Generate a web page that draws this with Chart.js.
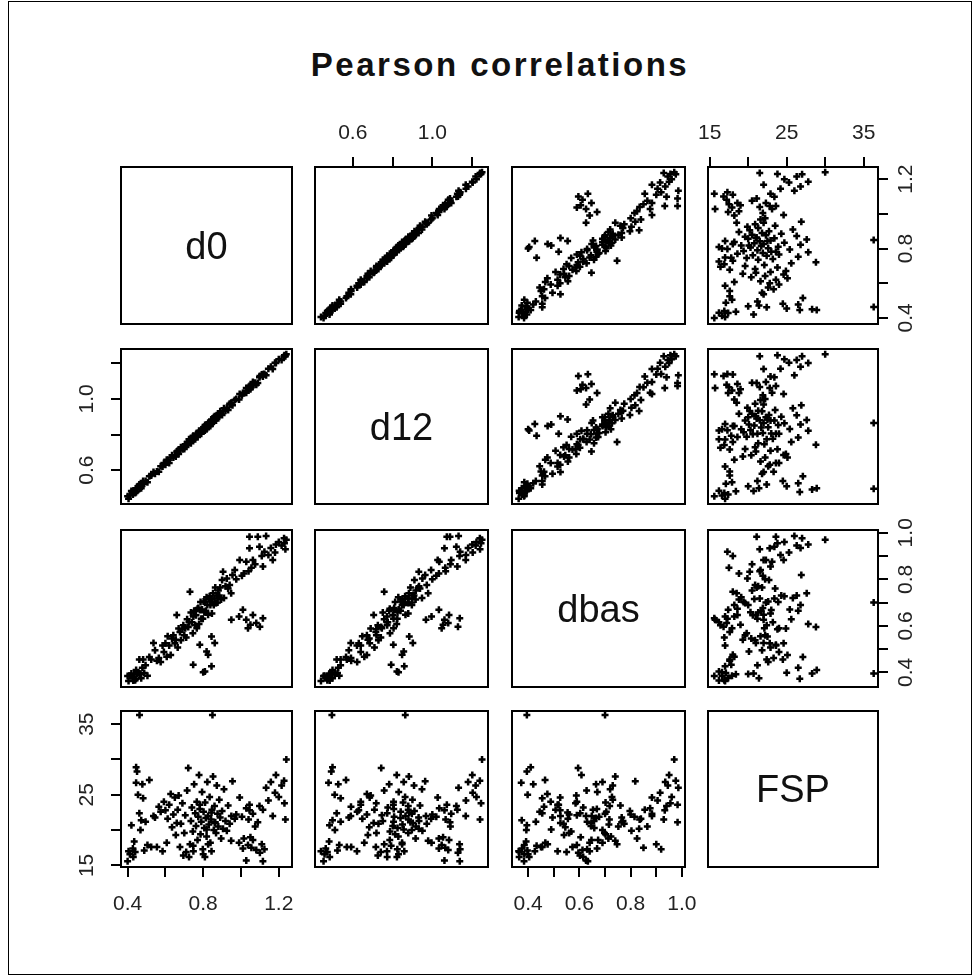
<!DOCTYPE html>
<html><head><meta charset="utf-8">
<script src="https://cdn.jsdelivr.net/npm/chart.js@4.4.0/dist/chart.umd.min.js"></script>
<style>
html,body{margin:0;padding:0;background:#fff;}
body{width:980px;height:976px;position:relative;overflow:hidden;font-family:'Liberation Sans',Arial,sans-serif;}
#frame{position:absolute;left:8px;top:1px;width:964px;height:974px;border:1px solid #000;box-sizing:border-box;}
#title{position:absolute;left:0;width:1000px;top:48px;text-align:center;font-weight:bold;font-size:33px;line-height:33px;letter-spacing:2.5px;color:#111;}
.diag{position:absolute;width:200px;text-align:center;font-size:38px;line-height:38px;color:#111;}
canvas{position:absolute;}
</style></head><body>
<div id="frame"></div>
<div id="title">Pearson correlations</div>
<script>
// ---- data: one entry per observation ----
const varNames = ['d0', 'd12', 'dbas', 'FSP'];

const d0 = [0.400,0.405,0.412,0.420,0.428,0.435,0.440,0.445,0.450,0.455,
0.463,0.462,0.468,0.472,0.478,0.482,0.488,0.495,0.505,0.515,
0.430,0.445,0.525,0.537,0.545,0.555,0.565,0.575,0.585,0.592,
0.600,0.607,0.612,0.620,0.628,0.635,0.642,0.650,0.655,0.660,
0.665,0.670,0.677,0.682,0.690,0.695,0.700,0.705,0.710,0.715,
0.721,0.725,0.730,0.735,0.740,0.745,0.748,0.752,0.758,0.762,
0.766,0.770,0.774,0.778,0.782,0.786,0.790,0.794,0.798,0.802,
0.806,0.810,0.814,0.818,0.822,0.826,0.830,0.834,0.838,0.842,
0.846,0.849,0.852,0.856,0.860,0.864,0.868,0.872,0.876,0.880,
0.885,0.890,0.895,0.900,0.905,0.910,0.918,0.925,0.932,0.940,
0.948,0.955,0.967,0.747,0.782,0.800,0.809,0.818,0.826,0.844,
0.844,0.861,0.949,0.990,1.010,1.028,1.037,1.063,1.081,1.100,
1.116,1.050,0.975,0.993,1.005,1.015,1.028,1.040,1.045,1.045,
1.055,1.063,1.075,1.089,1.098,1.110,1.116,1.124,1.133,1.145,
1.158,1.168,1.185,1.200,1.215,1.228,1.230,1.235,1.240,1.180];

const d12 = [0.453,0.440,0.458,0.483,0.464,0.481,0.472,0.498,0.492,0.509,
0.495,0.519,0.510,0.498,0.527,0.539,0.523,0.539,0.532,0.566,
0.484,0.478,0.570,0.590,0.580,0.592,0.591,0.622,0.621,0.640,
0.630,0.658,0.648,0.640,0.671,0.683,0.671,0.685,0.676,0.705,
0.709,0.690,0.716,0.729,0.718,0.726,0.719,0.746,0.741,0.758,
0.743,0.773,0.758,0.751,0.776,0.787,0.772,0.783,0.773,0.801,
0.805,0.786,0.808,0.821,0.806,0.813,0.805,0.831,0.824,0.841,
0.825,0.853,0.840,0.829,0.856,0.865,0.850,0.863,0.848,0.880,
0.879,0.864,0.882,0.897,0.879,0.890,0.879,0.908,0.897,0.917,
0.900,0.931,0.916,0.910,0.932,0.948,0.933,0.950,0.938,0.972,
0.979,0.964,0.994,0.793,0.804,0.830,0.822,0.856,0.848,0.884,
0.859,0.902,0.968,0.996,1.033,1.061,1.047,1.084,1.080,1.129,
1.138,1.054,1.000,1.027,1.020,1.033,1.035,1.067,1.061,1.073,
1.065,1.095,1.091,1.089,1.121,1.137,1.126,1.140,1.132,1.169,
1.180,1.168,1.201,1.222,1.218,1.239,1.245,1.240,1.250,1.203];

const dbas = [0.384,0.363,0.385,0.395,0.376,0.392,0.366,0.410,0.395,0.398,
0.395,0.455,0.393,0.375,0.420,0.455,0.397,0.430,0.385,0.466,
0.365,0.373,0.455,0.526,0.495,0.450,0.462,0.445,0.515,0.488,
0.525,0.467,0.555,0.515,0.475,0.545,0.560,0.525,0.540,0.647,
0.507,0.588,0.573,0.538,0.585,0.602,0.560,0.590,0.550,0.628,
0.595,0.615,0.747,0.657,0.615,0.568,0.640,0.665,0.603,0.645,
0.590,0.673,0.677,0.608,0.668,0.702,0.630,0.670,0.630,0.705,
0.658,0.702,0.665,0.723,0.690,0.648,0.715,0.727,0.690,0.717,
0.653,0.700,0.740,0.690,0.718,0.765,0.698,0.730,0.700,0.752,
0.730,0.765,0.713,0.797,0.833,0.720,0.770,0.803,0.760,0.775,
0.740,0.818,0.840,0.433,0.519,0.400,0.404,0.490,0.476,0.554,
0.426,0.526,0.626,0.640,0.669,0.626,0.590,0.647,0.612,0.596,
0.633,0.605,0.800,0.883,0.815,0.825,0.876,0.835,0.933,0.983,
0.850,0.883,0.865,0.983,0.940,0.900,0.855,0.919,0.986,0.905,
0.935,0.883,0.950,0.960,0.945,0.976,0.955,0.929,0.970,0.915];

const FSP = [15.6,17.0,16.6,20.7,17.4,18.4,16.9,28.9,28.3,25.0,
36.3,22.4,20.0,21.4,26.5,24.5,17.1,21.2,17.9,27.1,
16.2,26.7,17.6,22.0,21.8,17.6,23.3,22.6,17.0,24.0,
22.8,18.2,21.6,23.6,25.1,20.4,22.2,24.6,19.3,21.0,
22.9,24.9,17.6,20.9,23.8,16.4,19.6,22.1,16.9,25.6,
28.8,16.2,18.0,21.3,23.2,19.8,17.0,26.5,22.4,20.6,
24.0,18.6,21.9,27.8,23.0,19.4,21.2,25.4,17.3,22.6,
20.3,23.9,21.7,19.1,26.8,22.0,20.8,24.7,18.2,21.5,
22.9,36.3,27.6,20.0,23.4,21.1,19.6,26.3,22.3,20.5,
24.3,21.8,18.8,22.7,20.2,25.8,21.3,19.9,23.5,20.9,
18.5,26.9,21.6,17.8,23.6,16.6,16.2,20.1,18.0,22.5,
17.0,21.0,22.0,18.2,17.4,15.7,17.9,18.6,17.2,16.8,
15.6,19.0,22.2,24.6,21.9,18.8,23.1,21.5,22.8,23.6,
17.5,22.3,20.5,21.1,23.4,18.0,22.9,17.3,26.0,24.2,
26.8,22.0,27.8,24.7,26.3,27.0,23.8,21.5,30.0,25.3];

// ---- axis ticks and labels ----
const d0Ticks = [0.4, 0.6, 0.8, 1.0, 1.2];
const d0TickLabels = ['0.4', '', '0.8', '', '1.2'];
const d12Ticks = [0.6, 0.8, 1.0, 1.2];
const d12TickLabels = ['0.6', '', '1.0', ''];
const dbasTicks = [0.4, 0.5, 0.6, 0.7, 0.8, 0.9, 1.0];
const dbasTickLabels = ['0.4', '', '0.6', '', '0.8', '', '1.0'];
const FSPTicks = [15, 20, 25, 30, 35];
const FSPTickLabels = ['15', '', '25', '', '35'];

const series = [d0, d12, dbas, FSP];
const ticksOf = [d0Ticks, d12Ticks, dbasTicks, FSPTicks];
const labelsOf = [d0TickLabels, d12TickLabels, dbasTickLabels, FSPTickLabels];
const rangeOf = [[0.365, 1.27], [0.41, 1.28], [0.337, 1.012], [14.78, 36.86]];

// ---- layout (panel boxes) ----
const colL = [121, 315, 512, 708], colR = [292, 488, 685, 878];
const rowT = [167, 349, 530, 711], rowB = [324, 504, 687, 867];
const P = 60;
const FONT = "'Liberation Sans', Arial, sans-serif";
const TICKFONT = 21;

const boxPlugin = {
  id: 'box',
  afterDraw(chart, args, opts) {
    const ctx = chart.ctx, a = chart.chartArea;
    ctx.save();
    ctx.strokeStyle = '#000'; ctx.lineWidth = 2;
    ctx.strokeRect(a.left, a.top, a.right - a.left, a.bottom - a.top);
    const yl = opts.yLabels;
    if (yl) {
      const s = chart.scales.y;
      ctx.fillStyle = '#222';
      ctx.font = TICKFONT + 'px ' + FONT;
      ctx.textAlign = 'center'; ctx.textBaseline = 'middle';
      yl.ticks.forEach((v, i) => {
        if (!yl.labels[i]) return;
        const py = s.getPixelForValue(v);
        const px = yl.side === 'left' ? a.left - 34 : a.right + 28;
        ctx.save(); ctx.translate(px, py); ctx.rotate(-Math.PI / 2);
        ctx.fillText(yl.labels[i], 0, 0); ctx.restore();
      });
    }
    ctx.restore();
  }
};

function axisCfg(varIdx, pos, show, isX) {
  const t = ticksOf[varIdx], lab = labelsOf[varIdx];
  return {
    type: 'linear', position: pos, display: show, bounds: 'data',
    min: rangeOf[varIdx][0], max: rangeOf[varIdx][1],
    afterFit: s => { if (!show) return; if (isX) s.height = P; else s.width = P; },
    afterBuildTicks: s => { s.ticks = t.map(v => ({ value: v })); },
    ticks: {
      autoSkip: false, maxRotation: 0, minRotation: 0,
      callback: (v, i) => isX ? lab[i] : '',
      font: { size: TICKFONT, family: FONT }, color: '#222',
      padding: pos === 'top' ? 11 : 15
    },
    grid: { display: true, drawOnChartArea: false, drawTicks: true, tickLength: 10, color: '#000', lineWidth: 2 },
    border: { display: false }
  };
}

for (let r = 0; r < 4; r++) {
  for (let c = 0; c < 4; c++) {
    const w = colR[c] - colL[c], h = rowB[r] - rowT[r];
    const cv = document.createElement('canvas');
    cv.width = w + 2 * P; cv.height = h + 2 * P;
    cv.style.left = (colL[c] - P) + 'px'; cv.style.top = (rowT[r] - P) + 'px';
    document.body.appendChild(cv);

    let xPos = null, yPos = null;
    if (r === 0 && (c === 1 || c === 3)) xPos = 'top';
    if (r === 3 && (c === 0 || c === 2)) xPos = 'bottom';
    if (c === 0 && (r === 1 || r === 3)) yPos = 'left';
    if (c === 3 && (r === 0 || r === 2)) yPos = 'right';

    const pts = r === c ? [] : series[c].map((v, k) => ({ x: v, y: series[r][k] }));
    const pad = {
      left: yPos === 'left' ? 0 : P, right: yPos === 'right' ? 0 : P,
      top: xPos === 'top' ? 0 : P, bottom: xPos === 'bottom' ? 0 : P
    };
    new Chart(cv, {
      type: 'scatter',
      data: { datasets: [{ data: pts, pointStyle: 'cross', radius: 3.5, hoverRadius: 3.5,
        borderColor: '#000', backgroundColor: '#000', borderWidth: 2.5 }] },
      options: {
        responsive: false, animation: false, devicePixelRatio: 1, events: [],
        layout: { padding: pad },
        plugins: {
          legend: { display: false }, tooltip: { enabled: false },
          box: { yLabels: yPos ? { side: yPos, ticks: ticksOf[r], labels: labelsOf[r] } : null }
        },
        scales: {
          x: axisCfg(c, xPos || 'bottom', !!xPos, true),
          y: axisCfg(r, yPos || 'left', !!yPos, false)
        }
      },
      plugins: [boxPlugin]
    });

    if (r === c) {
      const d = document.createElement('div');
      d.className = 'diag';
      d.textContent = varNames[r];
      d.style.left = ((colL[c] + colR[c]) / 2 - 100) + 'px';
      d.style.top = ((rowT[r] + rowB[r]) / 2 - 19) + 'px';
      document.body.appendChild(d);
    }
  }
}
</script>
</body></html>
